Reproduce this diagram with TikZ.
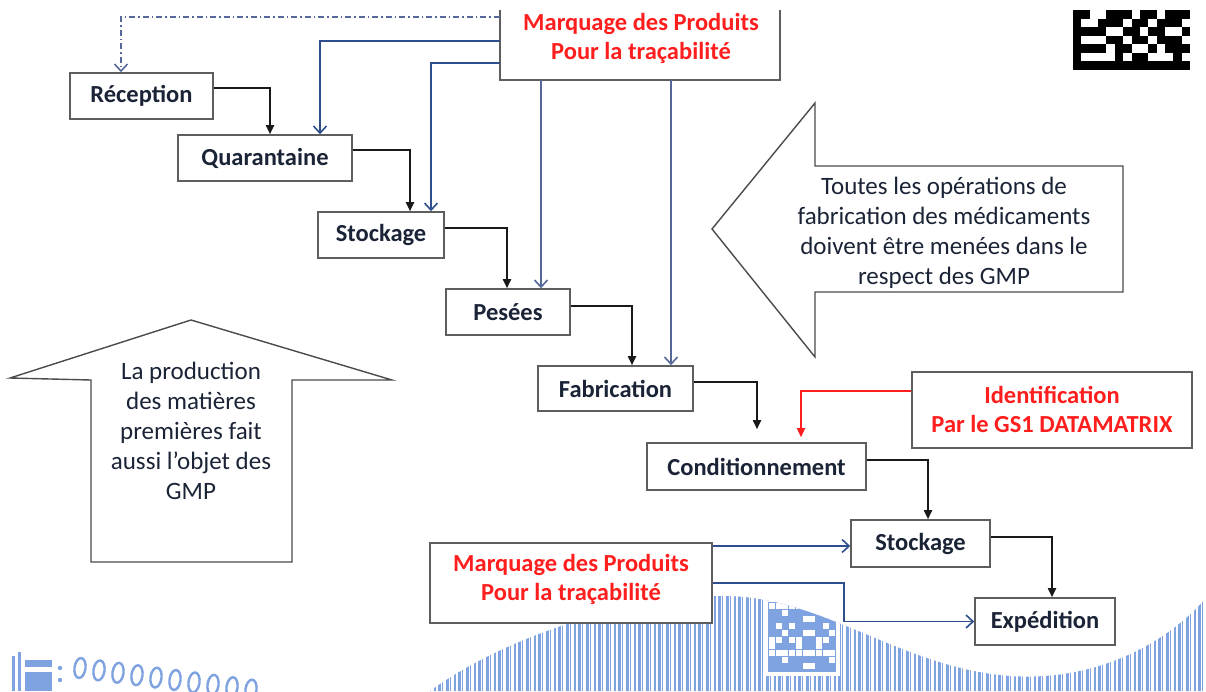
\documentclass[tikz,border=0pt]{standalone}
\usepackage{fontspec}
\setmainfont{Carlito}
\usetikzlibrary{arrows.meta}
\definecolor{ink}{HTML}{1B2436}
\definecolor{boxgray}{HTML}{5E5E5E}
\definecolor{flowblue}{HTML}{2F4E8E}
\definecolor{paleblue}{HTML}{56689A}
\definecolor{markred}{HTML}{FF1E1E}
\definecolor{deco}{HTML}{7FA2E0}
\begin{document}
\begin{tikzpicture}[x=1pt,y=-1pt,
  box/.style={draw=boxgray, line width=1.6pt, fill=white, text=ink,
    font=\fontsize{24.5}{29}\selectfont\bfseries, inner sep=0pt},
  redlabel/.style={text=markred, align=center,
    font=\fontsize{24.5}{29}\selectfont\bfseries},
  note/.style={text=ink, align=center, font=\fontsize{25}{30}\selectfont},
  shape line/.style={draw=boxgray!80!black, line width=1.4pt, fill=white},
  flow/.style={draw=black!90, line width=1.8pt, -{Triangle[length=9pt,width=8pt]}},
  trace/.style={draw=flowblue, line width=1.8pt, -{Straight Barb[length=7pt,width=13pt,line width=1.6pt]}},
  tracepale/.style={trace, draw=paleblue},
  tracedot/.style={trace, draw=paleblue, dash pattern=on 6pt off 3pt on 1.5pt off 3pt},
  idflow/.style={draw=markred, line width=1.6pt, -{Triangle[length=9pt,width=8pt]}}]

\useasboundingbox (0,0) rectangle (1206,691);
\clip (0,0) rectangle (1206,691);
\fill[white] (0,0) rectangle (1206,691);

% ---- barcode band along the bottom edge ----
\begin{scope}
  \clip (430,691) .. controls (500,640) and (620,598) .. (720,596)
        .. controls (820,594) and (900,668) .. (1010,676)
        .. controls (1100,682) and (1170,640) .. (1206,598)
        -- (1206,691) -- cycle;
  \foreach \i in {0,...,195} {
    \pgfmathsetmacro\xx{430+4*\i}
    \pgfmathsetmacro\ww{0.9+mod(\i*7,5)*0.55}
    \fill[deco] (\xx,560) rectangle ++(\ww,140);
  }
  % small matrix code inside the band
  \fill[white] (764,598) rectangle (840,676);
  \fill[deco] (768,602) rectangle (836,672);
  \foreach \c in {0,...,9} {
    \foreach \r in {0,...,9} {
      \pgfmathtruncatemacro\k{mod(\c*7+\r*13+\c*\r*3+\c*\c*\r,7)}
      \ifnum\k<3 \fill[white] (769+6.7*\c,603+6.7*\r) rectangle ++(6.0,6.0); \fi
    }
  }
\end{scope}
% printed digits fading in the lower left corner
\fill[deco] (12,656) rectangle (15,691);
\fill[deco] (18,652) rectangle (21,691);
\fill[deco] (25,660) rectangle (52,667);
\fill[deco] (25,672) rectangle (52,691);
\fill[deco] (60,668) circle (2.2pt);
\fill[deco] (60,680) circle (2.2pt);
\foreach \k in {0,...,9} {
  \draw[deco, line width=2.4pt, rotate around={-8:(80+19*\k,668+2.4*\k)}]
    (80+19*\k,668+2.4*\k) ellipse (5.5pt and 10pt);
}

% ---- matrix code, top right ----
\fill[black] (1073,10) rectangle (1190,70);
\foreach \c/\r in {2/0,3/0,7/0,10/0,
    1/1,2/1,6/1,9/1,13/1,
    4/2,5/2,8/2,11/2,12/2,
    1/3,2/3,3/3,6/3,9/3,13/3,
    4/4,7/4,8/4,10/4,
    1/5,2/5,3/5,4/5,6/5,9/5,10/5,11/5,13/5} {
  \fill[white] (1073+8.36*\c,10+8.57*\r) rectangle ++(8.36,8.57);
}

% ---- large block arrows ----
\draw[shape line] (91,562) -- (91,380) -- (10,378) -- (191,320) -- (392,380)
  -- (292,380) -- (292,562) -- cycle;
\node[note] (upnote) at (191,431) {La production\\des matières\\premières fait\\aussi l’objet des\\GMP};

\draw[shape line] (1123,166) -- (815,166) -- (815,103) -- (712,229) -- (815,357)
  -- (815,292) -- (1123,292) -- cycle;
\node[note] (leftnote) at (944,233) {Toutes les opérations de\\fabrication des médicaments\\doivent être menées dans le\\respect des GMP};

% ---- process steps ----
\node[box, minimum width=143pt, minimum height=46pt] (rec)  at (141.5,96)  {Réception};
\node[box, minimum width=174pt, minimum height=46pt] (qua)  at (265,158)   {Quarantaine};
\node[box, minimum width=126pt, minimum height=46pt] (sto1) at (381,235)   {Stockage};
\node[box, minimum width=124pt, minimum height=46pt] (pes)  at (508,312)   {Pesées};
\node[box, minimum width=155pt, minimum height=45pt] (fab)  at (615.5,388.5) {Fabrication};
\node[box, minimum width=219pt, minimum height=47pt] (cond) at (756.5,466.5) {Conditionnement};
\node[box, minimum width=139pt, minimum height=47pt] (sto2) at (920.5,543.5) {Stockage};
\node[box, minimum width=140pt, minimum height=47pt] (exp)  at (1045,621.5) {Expédition};

% ---- marking / identification boxes ----
\node[fill=white, minimum width=280pt, minimum height=70pt] (mtop) at (640,45) {};
\draw[draw=boxgray, line width=1.6pt] (mtop.north west) -- (mtop.south west)
  -- (mtop.south east) -- (mtop.north east);
\node[redlabel] (mtoptext) at (641,38) {Marquage des Produits\\Pour la traçabilité};

\node[box, minimum width=280pt, minimum height=76pt] (ident) at (1052,410) {};
\node[redlabel] (identtext) at (1052,409) {Identification\\Par le GS1 DATAMATRIX};

\node[box, minimum width=282pt, minimum height=80pt] (mbot) at (571,583) {};
\node[redlabel] (mbottext) at (571,579) {Marquage des Produits\\Pour la traçabilité};

% ---- process flow ----
\draw[flow] ([yshift=8pt]rec.east) -| ([xshift=5pt]qua.north);
\draw[flow] ([yshift=8pt]qua.east) -| ([xshift=29pt]sto1.north);
\draw[flow] ([yshift=7pt]sto1.east) -| ([xshift=-1pt]pes.north);
\draw[flow] ([yshift=6pt]pes.east) -| ([xshift=16.5pt]fab.north);
\draw[flow, shorten >=13pt] ([yshift=6.5pt]fab.east) -| ([xshift=0.5pt]cond.north);
\draw[flow] ([yshift=6.5pt]cond.east) -| ([xshift=7.5pt]sto2.north);
\draw[flow] ([yshift=6.5pt]sto2.east) -| ([xshift=7pt]exp.north);

% ---- traceability marking ----
\draw[tracedot] ([yshift=28pt]mtop.west) -| ([xshift=-20.5pt]rec.north);
\draw[trace] ([yshift=4pt]mtop.west) -| ([xshift=55pt]qua.north);
\draw[trace] ([yshift=-18pt]mtop.west) -| ([xshift=50pt]sto1.north);
\draw[tracepale] ([xshift=-99pt]mtop.south) -- ([xshift=-99pt]mtop.south |- pes.north);
\draw[tracepale] ([xshift=31pt]mtop.south) -- ([xshift=31pt]mtop.south |- fab.north);

\draw[idflow, shorten >=5pt] ([yshift=19pt]ident.west) -| ([xshift=44.5pt]cond.north);

\draw[trace] ([yshift=37pt]mbot.east) -- ([yshift=37pt]mbot.east -| sto2.west);
\draw[trace] (mbot.east) -- ++(131,0) |- (exp.west);

\end{tikzpicture}
\end{document}
